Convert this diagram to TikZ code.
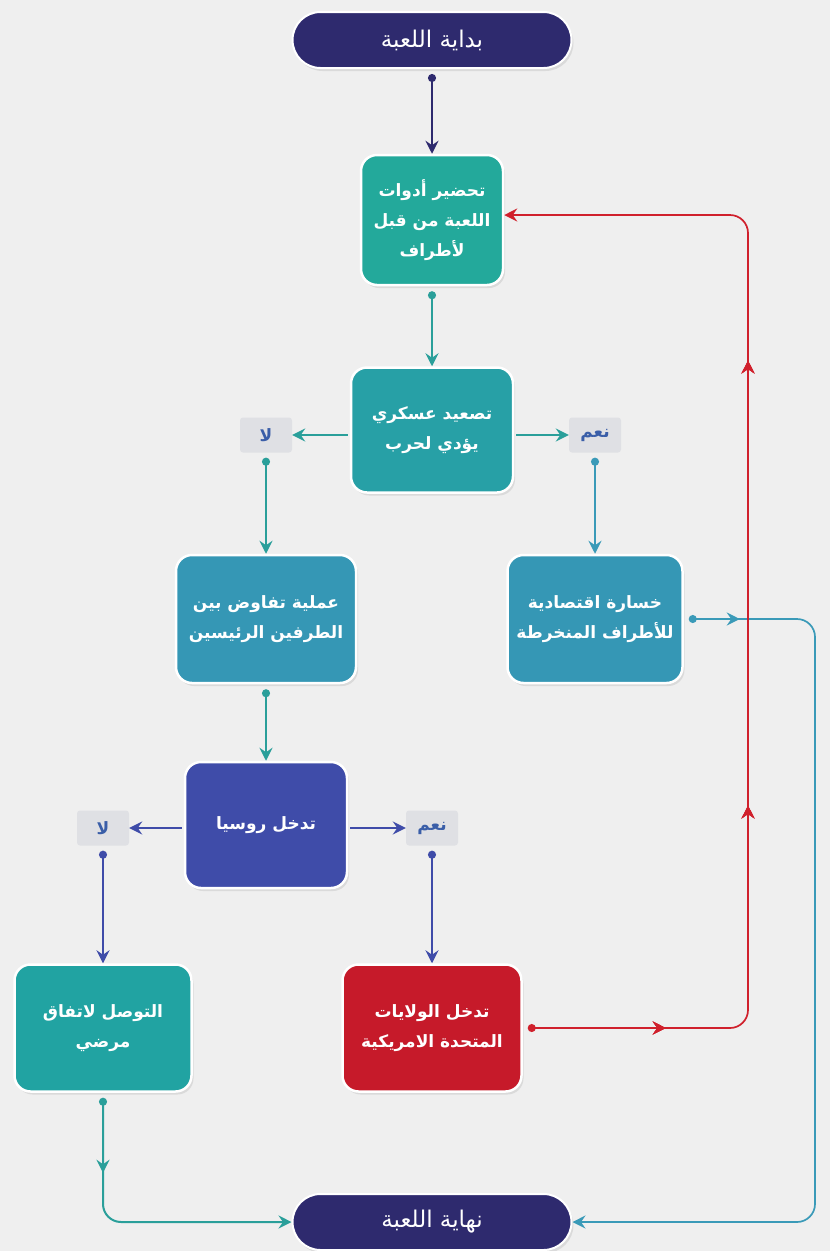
\documentclass[tikz,border=0pt]{standalone}
\usepackage{fontspec}
\usetikzlibrary{arrows.meta,decorations.markings,shadows}
\TeXXeTstate=1
\newfontfamily\arabicfont[Script=Arabic]{DejaVu Sans}
\newcommand{\arline}[1]{\beginR #1\endR}
\definecolor{navy}{HTML}{2E2A6E}
\definecolor{tealA}{HTML}{23A99B}
\definecolor{tealB}{HTML}{27A0A6}
\definecolor{blueA}{HTML}{3597B5}
\definecolor{indigoA}{HTML}{3F4CA9}
\definecolor{tealC}{HTML}{21A3A2}
\definecolor{redA}{HTML}{C61A2A}
\definecolor{lblfill}{HTML}{DFE0E4}
\definecolor{lbltext}{HTML}{3A5EA8}
\definecolor{bg}{HTML}{EFEFEF}
\definecolor{lineteal}{HTML}{2A9F9A}
\definecolor{lineblue}{HTML}{3A9AB8}
\definecolor{linered}{HTML}{D0202C}
\tikzset{
  box/.style={rectangle, rounded corners=16pt, draw=white, line width=2.5pt,
    text=white, align=center, font=\arabicfont\bfseries\fontsize{17}{30}\selectfont,
    drop shadow={opacity=0.18, shadow xshift=2pt, shadow yshift=-3pt}},
  pill/.style={rectangle, rounded corners=28pt, fill=navy, draw=white, line width=2pt,
    minimum width=279pt, minimum height=56pt, text=white,
    font=\arabicfont\fontsize{23}{26}\selectfont,
    drop shadow={opacity=0.18, shadow xshift=2pt, shadow yshift=-3pt}},
  lbl/.style={rectangle, rounded corners=3pt, fill=lblfill, minimum width=52pt, minimum height=35pt,
    text=lbltext, font=\arabicfont\bfseries\fontsize{17}{19}\selectfont},
  conn/.style={line width=2pt, -{Stealth[length=13pt,width=13pt,inset=4.5pt]}},
  dotconn/.style={conn, {Circle[length=8pt]}-{Stealth[length=13pt,width=13pt,inset=4.5pt]}, shorten <=5pt},
  midarrow/.style={postaction={decorate}, decoration={markings,
    mark=at position #1 with {\arrow{Stealth[length=13pt,width=13pt,inset=4.5pt]}}}}
}
\begin{document}
\begin{tikzpicture}[x=1pt,y=-1pt]
\useasboundingbox (0,0) rectangle (830,1251);
\fill[bg] (0,0) rectangle (830,1251);

% nodes
\node[pill] (start) at (432,40) {\arline{بداية اللعبة}};
\node[box, fill=tealA, minimum width=142pt, minimum height=130pt] (b1) at (432,220)
  {\arline{تحضير أدوات}\\\arline{اللعبة من قبل}\\\arline{لأطراف}};
\node[box, fill=tealB, minimum width=162pt, minimum height=125pt] (b2) at (432,430)
  {\arline{تصعيد عسكري}\\\arline{يؤدي لحرب}};
\node[lbl] (no1) at (266,435) {\arline{لا}};
\node[lbl] (yes1) at (595,435) {\arline{نعم}};
\node[box, fill=blueA, minimum width=180pt, minimum height=128pt] (b3) at (266,619)
  {\arline{عملية تفاوض بين}\\\arline{الطرفين الرئيسين}};
\node[box, fill=blueA, minimum width=175pt, minimum height=128pt] (b4) at (595,619)
  {\arline{خسارة اقتصادية}\\\arline{للأطراف المنخرطة}};
\node[box, fill=indigoA, minimum width=162pt, minimum height=126pt] (b5) at (266,825)
  {\arline{تدخل روسيا}};
\node[lbl] (no2) at (103,828) {\arline{لا}};
\node[lbl] (yes2) at (432,828) {\arline{نعم}};
\node[box, fill=tealC, minimum width=177pt, minimum height=127pt] (b6) at (103,1028)
  {\arline{التوصل لاتفاق}\\\arline{مرضي}};
\node[box, fill=redA, minimum width=179pt, minimum height=127pt] (b7) at (432,1028)
  {\arline{تدخل الولايات}\\\arline{المتحدة الامريكية}};
\node[pill] (end) at (432,1222) {\arline{نهاية اللعبة}};

% connectors
\draw[dotconn, navy] (start) -- (b1);
\draw[dotconn, lineteal] (b1) -- (b2);
\draw[conn, lineteal, shorten <=2pt] (b2.west |- no1) -- (no1.east);
\draw[conn, lineteal, shorten <=2pt] (b2.east |- yes1) -- (yes1.west);
\draw[dotconn, lineteal] (no1) -- (b3);
\draw[dotconn, lineblue] (yes1) -- (b4);
\draw[dotconn, lineteal] (b3) -- (b5);
\draw[conn, indigoA, shorten <=2pt] (b5.west |- no2) -- (no2.east);
\draw[conn, indigoA, shorten <=2pt] (b5.east |- yes2) -- (yes2.west);
\draw[dotconn, indigoA] (no2) -- (b6);
\draw[dotconn, indigoA] (yes2) -- (b7);

\coordinate (c6) at (103,1222);
\draw[dotconn, lineteal, rounded corners=18pt, midarrow=80pt] (b6.south) -- (c6) -- (end.west);

\coordinate (c4a) at (815,619);
\coordinate (c4b) at (815,1222);
\draw[dotconn, lineblue, line width=1.7pt, rounded corners=18pt, midarrow=56pt] (b4.east) -- (c4a) -- (c4b) -- (end.east);

\coordinate (r1) at (748,1028);
\coordinate (r2) at (748,215);
\draw[dotconn, linered, line width=1.7pt, rounded corners=18pt, midarrow=143pt, midarrow=440pt, midarrow=885pt]
  (b7.east) -- (r1) -- (r2) -- (b1.east |- r2);
\end{tikzpicture}
\end{document}
